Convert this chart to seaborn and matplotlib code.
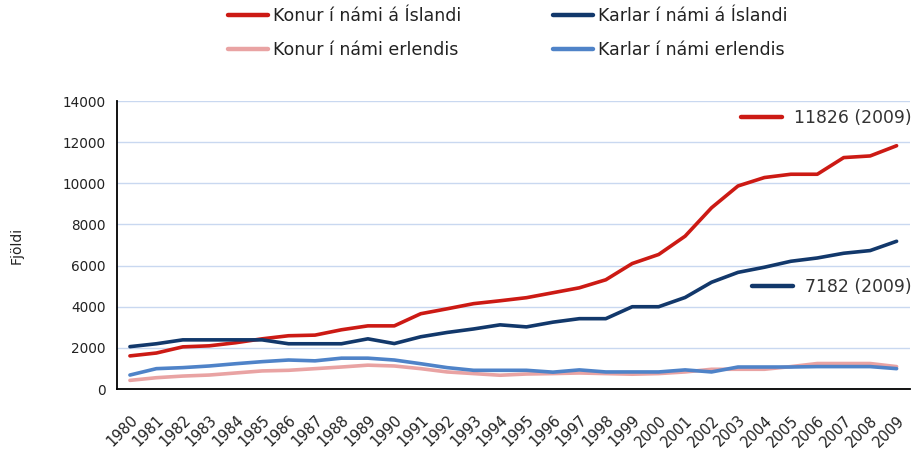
import pandas as pd
import matplotlib.pyplot as plt
import seaborn as sns
from matplotlib.lines import Line2D

years = list(range(1980, 2010))

konur_island = [1610, 1750, 2050, 2100, 2250, 2440, 2590, 2620, 2880, 3070,
                3070, 3660, 3900, 4150, 4290, 4440, 4680, 4920, 5310, 6100,
                6540, 7430, 8810, 9870, 10280, 10440, 10440, 11250, 11330, 11826]
karlar_island = [2060, 2200, 2390, 2390, 2390, 2390, 2200, 2200, 2200, 2440,
                 2210, 2540, 2750, 2920, 3120, 3020, 3250, 3420, 3420, 4000,
                 4000, 4450, 5190, 5670, 5920, 6210, 6370, 6600, 6730, 7182]
konur_erlendis = [420, 550, 630, 680, 780, 880, 910, 990, 1070, 1160,
                  1120, 990, 830, 750, 670, 730, 750, 780, 750, 720,
                  750, 830, 960, 960, 960, 1090, 1240, 1240, 1240, 1090]
karlar_erlendis = [680, 990, 1040, 1120, 1230, 1330, 1410, 1370, 1500, 1500,
                   1410, 1230, 1040, 910, 910, 910, 820, 930, 830, 830,
                   830, 930, 830, 1070, 1070, 1070, 1090, 1090, 1090, 990]

series_names = ['Konur í námi á Íslandi', 'Karlar í námi á Íslandi',
                'Konur í námi erlendis', 'Karlar í námi erlendis']
colors = ['#cc1a14', '#12386b', '#e9a3a3', '#4f83c8']
palette = dict(zip(series_names, colors))

df = pd.DataFrame({
    'idx': list(range(len(years))) * 4,
    'value': konur_island + karlar_island + konur_erlendis + karlar_erlendis,
    'series': sum([[n] * len(years) for n in series_names], []),
})

sns.set_theme(style='white')
plt.rcParams['font.family'] = ['DejaVu Sans']

fig = plt.figure(figsize=(9.19, 4.55), dpi=100)
ax = fig.add_axes([0.127, 0.145, 0.863, 0.633])

# pale "erlendis" lines first so the Iceland lines sit on top
draw_order = [series_names[2], series_names[3], series_names[0], series_names[1]]
sns.lineplot(data=df, x='idx', y='value', hue='series', hue_order=draw_order,
             palette=palette, linewidth=2.6, ax=ax, legend=False)

ax.set_xlim(-0.5, len(years) - 0.5)
ax.set_ylim(0, 14000)
ax.set_yticks(range(0, 14001, 2000))
ax.set_xticks(range(len(years)))
ax.set_xticks([i - 0.5 for i in range(len(years) + 1)], minor=True)
ax.set_xticklabels([str(y) for y in years], rotation=45, ha='right',
                   rotation_mode='anchor', fontsize=10.5, color='#222222')
ax.tick_params(axis='x', which='major', length=0, pad=17)
ax.tick_params(axis='x', which='minor', length=5, width=1.2, color='black', direction='out')
ax.tick_params(axis='y', length=5, width=1.2, color='black', direction='out',
               labelsize=9.8, labelcolor='#222222', pad=3)
ax.yaxis.grid(True, color='#c9d8f0', linewidth=1)
ax.set_axisbelow(True)
for side in ['top', 'right']:
    ax.spines[side].set_visible(False)
for side in ['left', 'bottom']:
    ax.spines[side].set_color('black')
    ax.spines[side].set_linewidth(1.3)
ax.set_xlabel('')
ax.set_ylabel('Fjöldi', fontsize=10, color='#222222', labelpad=28)

# legend at the top, two columns (column-wise fill: women left, men right)
leg_order = [series_names[0], series_names[2], series_names[1], series_names[3]]
handles = [Line2D([], [], color=palette[n], linewidth=3.2) for n in leg_order]
fig.legend(handles, leg_order, loc='upper left', bbox_to_anchor=(0.248, 0.985),
           ncol=2, frameon=False, fontsize=12.5, handlelength=2.3, handletextpad=0.3,
           columnspacing=5.3, labelspacing=0.95, labelcolor='#222222',
           borderpad=0, borderaxespad=0)

# end value labels
end1 = ax.legend([Line2D([], [], color=colors[0], linewidth=3.2)],
                 [f'{konur_island[-1]} ({years[-1]})'], loc='center right',
                 bbox_to_anchor=(1.0025, 0.941), frameon=False, fontsize=12.4,
                 handlelength=2.4, handletextpad=0.7, labelcolor='#333333',
                 borderpad=0, borderaxespad=0)
ax.add_artist(end1)
ax.legend([Line2D([], [], color=colors[1], linewidth=3.2)],
          [f'{karlar_island[-1]} ({years[-1]})'], loc='center right',
          bbox_to_anchor=(1.0025, 0.354), frameon=False, fontsize=12.4,
          handlelength=2.4, handletextpad=0.7, labelcolor='#333333',
          borderpad=0, borderaxespad=0)

fig.savefig('out.png', dpi=100)
